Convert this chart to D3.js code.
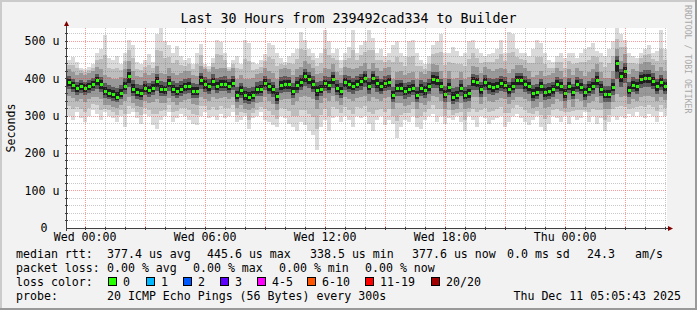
<!DOCTYPE html>
<html>
<head>
<meta charset="utf-8">
<script src="https://cdn.jsdelivr.net/npm/d3@7"></script>
<style>
body { margin: 0; background: #f2f2f2; }
svg { display: block; }
text { font-family: "DejaVu Sans Mono", monospace; white-space: pre; }
</style>
</head>
<body>
<svg id="chart" width="697" height="310"></svg>
<script>
// smokeping style latency graph, 30 hours, one point every 12 minutes
var startTime = Date.UTC(2025, 11, 9, 23, 5, 43);
var endTime = Date.UTC(2025, 11, 11, 5, 5, 43);
var stepMinutes = 12;

// values in microseconds
var medianRtt = [
    390,382,374,380,375,378,385,394,384,366,
    361,357,351,361,380,405,372,362,360,375,
    368,375,392,371,370,388,372,365,372,378,
    380,366,365,395,385,378,392,380,384,385,
    380,388,355,368,354,350,355,370,372,388,
    378,370,352,382,385,384,366,382,390,405,
    398,385,368,372,386,382,398,375,365,390,
    385,380,385,392,400,380,400,386,378,386,
    390,355,375,375,366,370,375,355,374,368,
    378,398,396,378,358,376,350,355,375,355,
    360,392,390,370,390,380,376,380,386,382,
    370,380,395,395,385,378,360,364,378,362,
    365,370,384,378,360,380,364,384,377,362,
    372,380,396,372,358,358,377,440,405,420,
    368,382,378,398,402,402,393,378,390,378];

var pingMax = [
    450,458,445,430,425,432,440,470,480,518,
    455,450,460,440,470,505,490,445,440,450,
    465,445,520,535,500,490,470,488,460,450,
    455,440,470,492,440,435,455,505,498,470,
    432,450,460,440,505,495,445,440,450,465,
    495,490,470,455,445,460,470,480,525,505,
    480,470,455,470,530,500,470,480,450,470,
    485,530,470,490,500,530,510,470,480,460,
    470,490,500,470,460,500,505,470,450,440,
    460,490,500,520,470,470,485,475,460,470,
    500,505,480,470,460,465,470,480,505,470,
    525,520,480,470,470,460,480,505,495,470,
    450,445,460,470,455,470,470,455,470,480,
    485,495,475,470,460,480,500,535,520,505,
    470,460,455,470,480,490,470,475,530,480];

var pingMin = [
    300,290,310,295,285,300,315,305,290,310,
    300,295,285,300,270,305,310,295,280,305,
    300,275,265,290,300,310,285,295,305,300,
    290,280,275,300,310,295,300,290,305,295,
    300,310,285,290,300,265,295,300,310,290,
    285,275,270,300,295,280,270,260,285,275,
    260,250,210,270,290,260,295,300,285,300,
    290,270,300,295,300,280,260,290,300,275,
    290,280,240,270,290,285,300,270,265,290,
    300,305,285,300,280,295,290,300,285,260,
    300,290,270,300,295,280,290,295,300,270,
    285,300,305,295,285,275,290,300,270,260,
    280,300,295,285,300,280,300,290,295,310,
    285,300,280,295,260,285,300,290,300,295,
    305,300,310,300,295,305,300,285,310,300];

var pingLowQuartile = [
    355,348,340,345,338,345,350,352,345,330,
    330,325,322,330,340,350,335,328,325,340,
    335,338,345,335,335,348,338,330,338,342,
    345,332,330,352,345,340,350,345,348,350,
    345,350,322,330,318,315,322,335,338,350,
    340,332,315,342,345,345,330,340,350,355,
    352,345,320,335,348,340,355,340,330,350,
    345,340,348,350,355,340,352,345,340,348,
    350,320,335,335,328,330,338,318,335,330,
    340,355,352,340,320,338,315,318,335,318,
    322,350,350,332,350,340,338,342,348,345,
    332,342,352,352,345,340,322,325,338,322,
    325,332,345,340,322,342,325,345,340,325,
    335,340,352,335,320,320,338,360,352,355,
    332,345,340,352,355,355,350,340,350,342];

var pingHighQuartile = [
    425,418,410,415,410,415,420,432,425,410,
    405,400,398,405,425,448,420,408,405,415,
    410,415,435,415,412,428,415,410,415,420,
    422,410,408,435,425,418,432,425,428,428,
    420,428,400,410,400,398,402,412,415,428,
    420,415,398,425,428,426,410,425,432,448,
    440,428,412,415,428,425,440,418,410,432,
    428,425,428,435,442,425,442,430,422,428,
    432,400,418,420,410,415,418,400,418,412,
    420,440,438,422,402,420,398,402,418,400,
    405,435,432,415,432,425,420,425,430,426,
    415,425,438,438,428,422,405,410,422,408,
    410,415,428,422,405,425,410,428,420,408,
    418,425,440,418,402,402,422,480,448,465,
    412,425,422,440,445,445,436,422,432,422];

var yTicks = [0, 100, 200, 300, 400, 500];
var yTickLabels = ["0", "100 u", "200 u", "300 u", "400 u", "500 u"];

var lossLabels = ["0", "1", "2", "3", "4-5", "6-10", "11-19", "20/20"];
var lossColors = ["#26ff00", "#00b8ff", "#0059ff", "#5e00ff", "#ff00ff", "#ff5500", "#ff0000", "#a10000"];
var lossBoxX = [108, 146, 183, 220, 257, 307, 365, 431];

var rttLegend = ["median rtt:", "377.4 us avg", "445.6 us max", "338.5 us min", "377.6 us now", "0.0 ms sd", "24.3", "am/s"];
var rttLegendX = [16, 107, 207, 310, 412, 507, 587, 635];
var lossLegend = ["packet loss:", "0.00 % avg", "0.00 % max", "0.00 % min", "0.00 % now"];
var lossLegendX = [16, 107, 193, 279, 365];

var svg = d3.select("#chart");
var W = 697, H = 310;
var plotLeft = 67, plotRight = 667, plotTop = 28, plotBottom = 228;

var x = d3.scaleUtc().domain([new Date(startTime), new Date(endTime)]).range([plotLeft, plotRight]);
var y = d3.scaleLinear().domain([0, 536]).range([plotBottom, plotTop]);

// frame
svg.append("rect").attr("width", W).attr("height", H).attr("fill", "#f2f2f2");
svg.append("path").attr("d", "M0,0H" + W + "V2H2V" + H + "H0Z").attr("fill", "#cbcbcb");
svg.append("path").attr("d", "M" + W + "," + H + "H0V" + (H - 2) + "H" + (W - 2) + "V0H" + W + "Z").attr("fill", "#999999");
svg.append("rect").attr("x", plotLeft).attr("y", plotTop).attr("width", plotRight - plotLeft).attr("height", plotBottom - plotTop).attr("fill", "#ffffff");

var pointTime = function (i) { return new Date(startTime + i * stepMinutes * 60000); };

var layers = [
    {color: "#dadada", lo: function (i) { return pingMin[i]; }, hi: function (i) { return pingMax[i]; }},
    {color: "#bdbdbd", lo: function (i) { return (pingMin[i] + pingLowQuartile[i]) / 2; }, hi: function (i) { return (pingMax[i] + pingHighQuartile[i]) / 2; }},
    {color: "#989898", lo: function (i) { return pingLowQuartile[i]; }, hi: function (i) { return pingHighQuartile[i]; }},
    {color: "#5a5a5a", lo: function (i) { return (pingLowQuartile[i] + medianRtt[i]) / 2; }, hi: function (i) { return (pingHighQuartile[i] + medianRtt[i]) / 2; }},
    {color: "#1e1e1e", lo: function (i) { return medianRtt[i] - (medianRtt[i] - pingLowQuartile[i]) * 0.28; }, hi: function (i) { return medianRtt[i] + (pingHighQuartile[i] - medianRtt[i]) * 0.28; }}
];

var plot = svg.append("g").attr("shape-rendering", "crispEdges");

layers.forEach(function (layer) {
    plot.append("g").selectAll("rect")
        .data(medianRtt)
        .enter().append("rect")
        .attr("x", function (d, i) { return x(pointTime(i)); })
        .attr("width", function (d, i) { return x(pointTime(i + 1)) - x(pointTime(i)); })
        .attr("y", function (d, i) { return y(layer.hi(i)); })
        .attr("height", function (d, i) { return y(layer.lo(i)) - y(layer.hi(i)); })
        .attr("fill", layer.color);
});

// median marks, coloured by loss (all 0 here)
plot.append("g").selectAll("rect")
    .data(medianRtt)
    .enter().append("rect")
    .attr("x", function (d, i) { return x(pointTime(i)) + 0.5; })
    .attr("width", function (d, i) { return x(pointTime(i + 1)) - x(pointTime(i)) - 1; })
    .attr("y", function (d) { return y(d) - 1.5; })
    .attr("height", 3)
    .attr("fill", lossColors[0]);

// grid on top of the data, like rrdtool does
var grid = svg.append("g").attr("shape-rendering", "crispEdges").attr("stroke-dasharray", "1,1");
var minorY = d3.range(0, 536, 20).filter(function (v) { return v % 100 !== 0; });

grid.selectAll("line.hminor").data(minorY).enter().append("line")
    .attr("x1", plotLeft).attr("x2", plotRight)
    .attr("y1", function (d) { return Math.floor(y(d)) + 0.5; })
    .attr("y2", function (d) { return Math.floor(y(d)) + 0.5; })
    .attr("stroke", "rgba(120,120,120,0.4)");

var hours = d3.utcHour.every(1).range(new Date(startTime), new Date(endTime));
var majorHours = d3.utcHour.every(3).range(new Date(startTime), new Date(endTime));
var labelHours = d3.utcHour.every(6).range(new Date(startTime), new Date(endTime));

grid.selectAll("line.vminor").data(hours.filter(function (d) { return d.getUTCHours() % 3 !== 0; })).enter().append("line")
    .attr("x1", function (d) { return Math.round(x(d)) + 0.5; })
    .attr("x2", function (d) { return Math.round(x(d)) + 0.5; })
    .attr("y1", plotTop).attr("y2", plotBottom)
    .attr("stroke", "rgba(120,120,120,0.4)");

grid.selectAll("line.hmajor").data(yTicks.slice(1)).enter().append("line")
    .attr("x1", plotLeft).attr("x2", plotRight)
    .attr("y1", function (d) { return Math.floor(y(d)) + 0.5; })
    .attr("y2", function (d) { return Math.floor(y(d)) + 0.5; })
    .attr("stroke", "rgba(255,70,70,0.55)");

grid.selectAll("line.vmajor").data(majorHours).enter().append("line")
    .attr("x1", function (d) { return Math.round(x(d)) + 0.5; })
    .attr("x2", function (d) { return Math.round(x(d)) + 0.5; })
    .attr("y1", plotTop).attr("y2", plotBottom)
    .attr("stroke", "rgba(255,70,70,0.55)");

// axes with arrows
var axes = svg.append("g").attr("shape-rendering", "crispEdges").attr("stroke", "#404040");
axes.append("line").attr("x1", plotLeft - 0.5).attr("x2", plotRight + 2).attr("y1", plotBottom + 0.5).attr("y2", plotBottom + 0.5);
axes.append("line").attr("x1", plotLeft - 0.5).attr("x2", plotLeft - 0.5).attr("y1", plotBottom + 3).attr("y2", plotTop - 4);
axes.selectAll("line.xt").data(hours).enter().append("line")
    .attr("x1", function (d) { return Math.round(x(d)) + 0.5; })
    .attr("x2", function (d) { return Math.round(x(d)) + 0.5; })
    .attr("y1", plotBottom - 1).attr("y2", plotBottom + 2);
axes.selectAll("line.yt").data(d3.range(20, 536, 20)).enter().append("line")
    .attr("x1", plotLeft - 2).attr("x2", plotLeft + 1)
    .attr("y1", function (d) { return Math.floor(y(d)) + 0.5; })
    .attr("y2", function (d) { return Math.floor(y(d)) + 0.5; });
svg.append("path").attr("d", "M" + (plotRight + 1) + "," + (plotBottom - 2) + "L" + (plotRight + 6) + "," + (plotBottom + 0.5) + "L" + (plotRight + 1) + "," + (plotBottom + 3) + "Z").attr("fill", "#800000");
svg.append("path").attr("d", "M" + (plotLeft - 3) + "," + (plotTop - 2) + "L" + (plotLeft - 0.5) + "," + (plotTop - 7) + "L" + (plotLeft + 2) + "," + (plotTop - 2) + "Z").attr("fill", "#800000");

// tick labels
var font = 11.6;
svg.append("g").selectAll("text").data(yTicks).enter().append("text")
    .attr("x", function (d) { return d === 0 ? 47.5 : 59.5; })
    .attr("y", function (d) { return y(d) + 4; })
    .attr("text-anchor", "end")
    .attr("font-size", font)
    .text(function (d, i) { return yTickLabels[i]; });

svg.append("g").selectAll("text").data(labelHours).enter().append("text")
    .attr("x", function (d) { return x(d); })
    .attr("y", 241)
    .attr("text-anchor", "middle")
    .attr("font-size", font)
    .text(d3.utcFormat("%a %H:%M"));

svg.append("text")
    .attr("transform", "translate(15," + ((plotTop + plotBottom) / 2) + ") rotate(-90)")
    .attr("text-anchor", "middle")
    .attr("font-size", font)
    .text("Seconds");

svg.append("text")
    .attr("x", W / 2).attr("y", 23)
    .attr("text-anchor", "middle")
    .attr("font-size", 13.3)
    .text("Last 30 Hours from 239492cad334 to Builder");

svg.append("text")
    .attr("transform", "translate(685,5) rotate(90)")
    .attr("font-size", 8.2)
    .attr("fill", "#a9a9a9")
    .text("RRDTOOL / TOBI OETIKER");

// legend
var legend = svg.append("g").attr("font-size", font);
legend.selectAll("text.rtt").data(rttLegend).enter().append("text")
    .attr("x", function (d, i) { return rttLegendX[i]; }).attr("y", 258).text(function (d) { return d; });
legend.selectAll("text.loss").data(lossLegend).enter().append("text")
    .attr("x", function (d, i) { return lossLegendX[i]; }).attr("y", 272).text(function (d) { return d; });
legend.append("text").attr("x", 16).attr("y", 286).text("loss color:");
legend.selectAll("rect").data(lossColors).enter().append("rect")
    .attr("x", function (d, i) { return lossBoxX[i] + 0.5; })
    .attr("y", 277.5).attr("width", 8).attr("height", 8)
    .attr("fill", function (d) { return d; })
    .attr("stroke", "#000").attr("shape-rendering", "crispEdges");
legend.selectAll("text.lc").data(lossLabels).enter().append("text")
    .attr("x", function (d, i) { return lossBoxX[i] + 15; }).attr("y", 286).text(function (d) { return d; });
legend.append("text").attr("x", 16).attr("y", 300).text("probe:");
legend.append("text").attr("x", 107).attr("y", 300).text("20 ICMP Echo Pings (56 Bytes) every 300s");
legend.append("text").attr("x", 681).attr("y", 300).attr("text-anchor", "end").text("Thu Dec 11 05:05:43 2025");
</script>
</body>
</html>
